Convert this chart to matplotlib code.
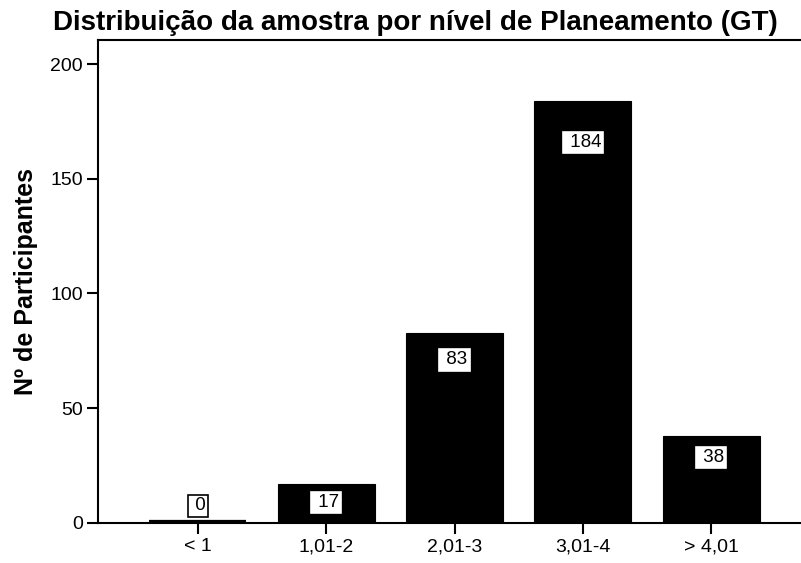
import matplotlib.pyplot as plt

plt.rcParams['font.family'] = ['Liberation Sans', 'DejaVu Sans']

categories = ['< 1', '1,01-2', '2,01-3', '3,01-4', '> 4,01']
counts = [0, 17, 83, 184, 38]
yticks = [0, 50, 100, 150, 200]

fig = plt.figure(figsize=(8.01, 5.63), dpi=100)
ax = fig.add_axes([0.1223, 0.0711, 0.8777, 0.858])

x = list(range(len(categories)))
# empty category still shows as a thick line on the baseline
widths = [4.5 if v == 0 else 0.8 for v in counts]
ax.bar(x, counts, width=0.756, color='black', edgecolor='black', linewidth=widths)

# value labels in white boxes
for xi, v in zip(x, counts):
    y = max(v - (7 + 0.06 * v), 7.4)
    edge = 'black' if v == 0 else 'white'
    ax.text(xi, y, ' ' + str(v), ha='center', va='center', fontsize=13.5,
            bbox=dict(facecolor='white', edgecolor=edge, linewidth=1.2, pad=1.5))

ax.set_xlim(-0.779, 4.70)
ax.set_ylim(0, 210.5)
ax.set_xticks(x)
ax.set_xticklabels(categories, fontsize=14)
ax.set_yticks(yticks)
ax.set_yticklabels([str(t) for t in yticks], fontsize=14)
ax.tick_params(direction='out', length=8, width=1.5, pad=3)

for s in ['left', 'bottom', 'top']:
    ax.spines[s].set_linewidth(1.5)
ax.spines['right'].set_visible(False)

ax.set_ylabel('Nº de Participantes', fontsize=18, fontweight='bold', labelpad=9)
fig.suptitle('Distribuição da amostra por nível de Planeamento (GT)',
             fontsize=20, fontweight='bold', x=0.518, y=0.982)

fig.savefig('out.png', dpi=100)
